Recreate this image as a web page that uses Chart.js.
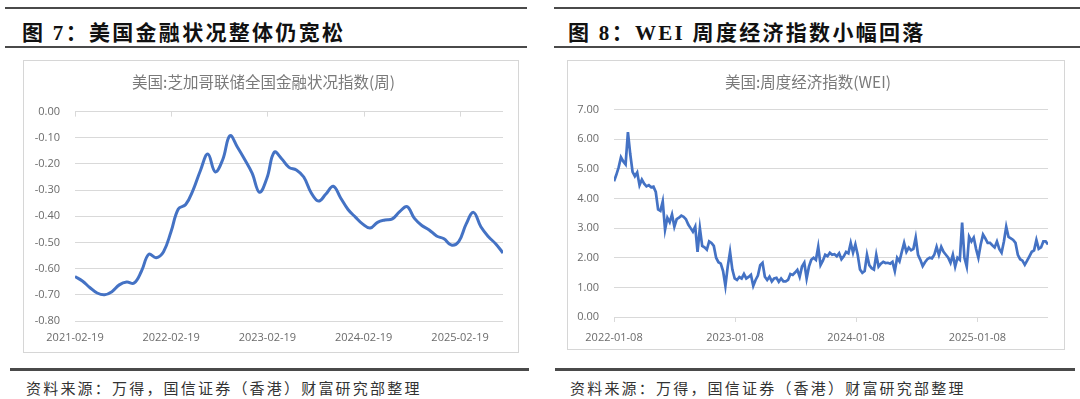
<!DOCTYPE html>
<html>
<head>
<meta charset="utf-8">
<script src="https://cdn.jsdelivr.net/npm/chart.js@4.4.1/dist/chart.umd.min.js"></script>
<style>
  body { margin: 0; background: #fff; width: 1080px; height: 399px; position: relative; overflow: hidden; }
  .rule { position: absolute; background: #4a4a4a; }
  .head { position: absolute; top: 16px; font-family: "Liberation Serif", "Noto Sans CJK SC", serif; font-weight: bold; font-size: 21px; letter-spacing: 2.3px; color: #111; white-space: nowrap; }
  .src { position: absolute; top: 377px; font-family: "Noto Sans CJK SC", sans-serif; font-size: 15px; letter-spacing: 2.2px; color: #333; white-space: nowrap; }
  .box { position: absolute; border: 1px solid #d6d6d6; }
</style>
</head>
<body>

<!-- left panel -->
<div class="rule" style="left:5px; top:7px; width:522px; height:2px;"></div>
<div class="head" style="left:22px;">图 7：美国金融状况整体仍宽松</div>
<div class="rule" style="left:5px; top:46px; width:522px; height:2px;"></div>
<div class="box" style="left:23px; top:60px; width:494px; height:291px;"><canvas id="fci"></canvas></div>
<div class="rule" style="left:10px; top:368px; width:519px; height:3px;"></div>
<div class="src" style="left:26px;">资料来源：万得，国信证券（香港）财富研究部整理</div>

<!-- right panel -->
<div class="rule" style="left:554px; top:7px; width:526px; height:2px;"></div>
<div class="head" style="left:568px;">图 8：WEI 周度经济指数小幅回落</div>
<div class="rule" style="left:554px; top:46px; width:526px; height:2px;"></div>
<div class="box" style="left:567px; top:60px; width:496px; height:288px;"><canvas id="wei"></canvas></div>
<div class="rule" style="left:555px; top:368px; width:520px; height:3px;"></div>
<div class="src" style="left:570px;">资料来源：万得，国信证券（香港）财富研究部整理</div>

<script>
// 芝加哥联储全国金融状况指数, read every 4 weeks from 2021-02-19
var fciStart = '2021-02-19';
var fciStepDays = 28;
var fciValues = [
  -0.63, -0.647, -0.672, -0.693, -0.70, -0.688, -0.662, -0.651, -0.655, -0.61,
  -0.545, -0.558, -0.535, -0.46, -0.372, -0.355, -0.30, -0.225, -0.162, -0.23,
  -0.185, -0.092, -0.135, -0.183, -0.235, -0.308, -0.255, -0.155, -0.18, -0.213,
  -0.223, -0.25, -0.31, -0.342, -0.315, -0.285, -0.33, -0.374, -0.403, -0.43,
  -0.445, -0.423, -0.414, -0.41, -0.382, -0.363, -0.408, -0.435, -0.452, -0.475,
  -0.486, -0.51, -0.497, -0.43, -0.385, -0.44, -0.477, -0.505, -0.54
];
var fciTickLabels = ['2021-02-19', '2022-02-19', '2023-02-19', '2024-02-19', '2025-02-19'];

// 周度经济指数 WEI, weekly from 2022-01-08
var weiStart = '2022-01-08';
var weiStepDays = 7;
var weiValues = [
  4.58, 4.8, 5.05, 5.39, 5.25, 5.15, 6.24, 5.5, 4.9, 4.75,
  4.88, 4.45, 4.64, 4.5, 4.41, 4.45, 4.38, 4.4, 4.22, 3.63,
  3.58, 3.9, 2.95, 3.35, 3.2, 3.46, 3.05, 3.3, 3.35, 3.42,
  3.38, 3.3, 3.12, 3.0, 2.88, 3.05, 2.2, 3.0, 2.4, 2.35,
  2.27, 2.55, 2.5, 2.4, 2.0, 1.85, 1.8, 1.55, 1.05, 1.7,
  2.2, 1.6, 1.3, 1.25, 1.35, 1.3, 1.45, 1.3, 1.35, 1.42,
  1.05, 1.25, 1.4, 1.75, 1.83, 1.36, 1.25, 1.36, 1.2, 1.3,
  1.32, 1.19, 1.3, 1.2, 1.2, 1.25, 1.45, 1.42, 1.5, 1.59,
  1.36, 1.7, 1.83, 1.3, 1.7, 1.93, 2.0, 1.93, 2.37, 1.75,
  1.9, 2.1, 2.05, 2.17, 2.1, 2.12, 2.05, 2.15, 1.95, 2.05,
  2.2, 2.15, 2.5, 2.17, 2.45, 2.1, 1.6, 1.49, 1.55, 2.1,
  1.75, 1.65, 1.6, 2.1, 1.7, 1.8, 1.86, 1.82, 1.83, 1.8,
  1.86, 1.55, 2.0, 1.88, 2.2, 2.5, 2.2, 2.34, 2.25, 2.3,
  2.68, 2.1, 1.93, 1.72, 1.85, 1.95, 2.0, 1.98, 2.1, 2.37,
  2.1, 2.37, 2.2, 2.1, 2.0, 1.83, 2.1, 1.7, 2.0, 1.93,
  3.19, 2.0, 1.7, 2.71, 2.55, 2.68, 2.3, 2.0, 2.45, 2.78,
  2.65, 2.5, 2.5, 2.42, 2.35, 2.55, 2.3, 2.17, 2.55, 3.05,
  2.7, 2.65, 2.6, 2.5, 2.1, 1.95, 1.9, 1.76, 1.9, 2.05,
  2.2, 2.25, 2.6, 2.3, 2.35, 2.55, 2.55, 2.45
];
var weiTickLabels = ['2022-01-08', '2023-01-08', '2024-01-08', '2025-01-08'];

function daysBetween(a, b) {
  return (Date.parse(b) - Date.parse(a)) / 86400000;
}

var lineBlue = '#4472c4';
var gridGray = '#d9d9d9';
var labelGray = '#6b6b6b';
var tickFont = { family: '"Open Sans", "Liberation Sans", sans-serif', size: 11 };
var titleFont = { family: '"Noto Sans CJK SC", sans-serif', size: 15.5, weight: 'normal' };

// small tick marks hanging from the 0 line (Excel axis crosses at zero)
var zeroTicks = {
  id: 'zeroTicks',
  afterDatasetsDraw: function(chart, args, opts) {
    if (!opts.days) return;
    var ctx = chart.ctx;
    var y0 = chart.scales.y.getPixelForValue(0);
    ctx.save();
    ctx.strokeStyle = gridGray;
    ctx.lineWidth = 1;
    opts.days.forEach(function(d) {
      var x = Math.round(chart.scales.x.getPixelForValue(d)) + 0.5;
      ctx.beginPath();
      ctx.moveTo(x, y0);
      ctx.lineTo(x, y0 + 5);
      ctx.stroke();
    });
    ctx.restore();
  }
};

function makeChart(id, cfg) {
  var tickDays = cfg.tickLabels.map(function(l) { return daysBetween(cfg.start, l); });
  var points = cfg.values.map(function(v, i) { return { x: i * cfg.step, y: v }; });

  return new Chart(document.getElementById(id), {
    type: 'line',
    data: {
      datasets: [{
        data: points,
        borderColor: lineBlue,
        borderWidth: cfg.lineWidth,
        pointRadius: 0,
        tension: cfg.tension,
        fill: false
      }]
    },
    options: {
      responsive: true,
      maintainAspectRatio: false,
      animation: false,
      layout: { padding: { left: 0, right: cfg.padRight, top: 0, bottom: 0 } },
      plugins: {
        legend: { display: false },
        tooltip: { enabled: false },
        title: {
          display: true,
          text: cfg.title,
          color: '#7a7a7a',
          font: titleFont,
          padding: { top: 12, bottom: cfg.titleGap }
        },
        zeroTicks: { days: cfg.topTicks ? tickDays : null }
      },
      scales: {
        x: {
          type: 'linear',
          min: 0,
          max: (cfg.values.length - 1) * cfg.step,
          afterBuildTicks: function(scale) {
            scale.ticks = tickDays.map(function(d) { return { value: d }; });
          },
          afterFit: function(scale) { scale.height = cfg.xHeight; },
          ticks: {
            autoSkip: false,
            maxRotation: 0,
            color: labelGray,
            font: tickFont,
            padding: cfg.xPad,
            callback: function(value, index) { return cfg.tickLabels[index]; }
          },
          grid: {
            display: !cfg.topTicks,
            drawOnChartArea: false,
            drawTicks: !cfg.topTicks,
            tickLength: 5,
            color: gridGray
          },
          border: { display: false }
        },
        y: {
          min: cfg.yMin,
          max: cfg.yMax,
          afterFit: function(scale) { scale.width = cfg.yWidth; },
          ticks: {
            stepSize: cfg.yStep,
            color: labelGray,
            font: tickFont,
            padding: 15,
            callback: function(v) { return v.toFixed(2); }
          },
          grid: { color: gridGray, lineWidth: 1, drawTicks: false },
          border: { display: false }
        }
      }
    },
    plugins: [zeroTicks]
  });
}

makeChart('fci', {
  title: '美国:芝加哥联储全国金融状况指数(周)',
  start: fciStart, step: fciStepDays, values: fciValues, tickLabels: fciTickLabels,
  yMin: -0.8, yMax: 0, yStep: 0.1,
  lineWidth: 3, tension: 0.4, topTicks: true,
  yWidth: 51, xHeight: 31, xPad: 10, padRight: 15, titleGap: 20
});

makeChart('wei', {
  title: '美国:周度经济指数(WEI)',
  start: weiStart, step: weiStepDays, values: weiValues, tickLabels: weiTickLabels,
  yMin: 0, yMax: 7, yStep: 1,
  lineWidth: 2.7, tension: 0, topTicks: false,
  yWidth: 46, xHeight: 32, xPad: 9, padRight: 16, titleGap: 18
});
</script>
</body>
</html>
